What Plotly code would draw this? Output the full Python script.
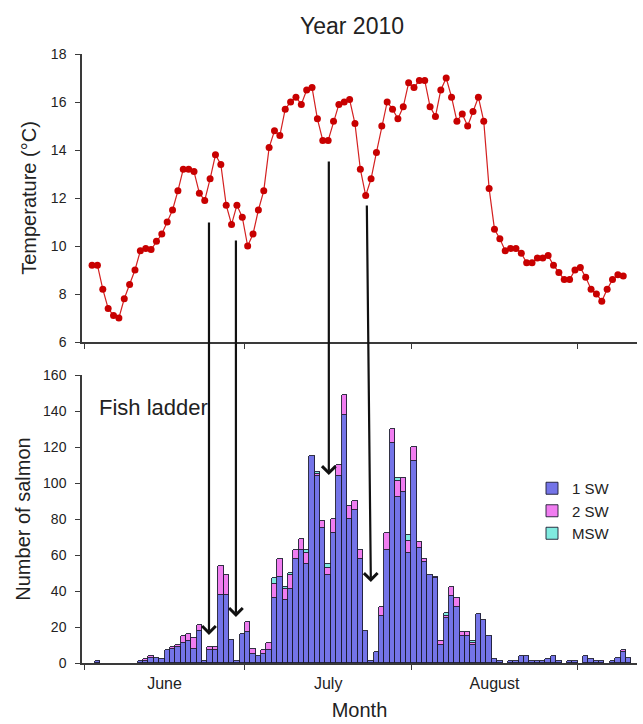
import pandas as pd
import plotly.graph_objects as go
from plotly.subplots import make_subplots

# ---- data -------------------------------------------------------------
# Daily mean water temperature (deg C), 2 June - 9 September 2010
temp_first_day = "2010-06-02"
temperature = [
    9.2, 9.2, 8.2, 7.4, 7.1, 7.0, 7.8, 8.4, 9.0, 9.8,
    9.9, 9.85, 10.2, 10.5, 11.0, 11.5, 12.3, 13.2, 13.2, 13.1,
    12.2, 11.9, 12.8, 13.8, 13.4, 11.7, 10.9, 11.7, 11.2, 10.0,
    10.5, 11.5, 12.3, 14.1, 14.8, 14.6, 15.7, 16.0, 16.2, 15.9,
    16.5, 16.6, 15.3, 14.4, 14.4, 15.2, 15.9, 16.0, 16.1, 15.1,
    13.2, 12.1, 12.8, 13.9, 15.0, 16.0, 15.7, 15.3, 15.8, 16.8,
    16.6, 16.9, 16.9, 15.8, 15.4, 16.5, 17.0, 16.2, 15.2, 15.5,
    15.0, 15.6, 16.2, 15.2, 12.4, 10.7, 10.3, 9.8, 9.9, 9.9,
    9.7, 9.3, 9.3, 9.5, 9.5, 9.6, 9.2, 8.9, 8.6, 8.6,
    9.0, 9.1, 8.7, 8.2, 8.0, 7.7, 8.2, 8.6, 8.8, 8.75,
]

# Daily salmon counts in the fish ladder, 1 June - 10 September 2010
count_first_day = "2010-06-01"
one_sw = [
    0, 0, 1, 0, 0, 0, 0, 0, 0, 0,
    1, 1, 3, 3, 2, 7, 8, 9, 11, 12,
    8, 18, 1, 7, 7, 38, 38, 13, 1, 16,
    17, 5, 4, 5, 7, 36, 48, 35, 41, 58,
    63, 55, 115, 104, 75, 49, 72, 104, 138, 80,
    85, 58, 18, 1, 6, 26, 63, 122, 92, 95,
    61, 112, 64, 56, 49, 47, 10, 25, 37, 31,
    15, 15, 10, 27, 24, 15, 2, 1, 0, 1,
    1, 4, 4, 1, 1, 1, 2, 4, 1, 0,
    1, 1, 0, 4, 2, 1, 1, 0, 1, 3,
    6, 3,
]
two_sw = [
    0, 0, 0, 0, 0, 0, 0, 0, 0, 0,
    0, 1, 1, 0, 0, 0, 1, 1, 4, 4,
    6, 3, 0, 2, 2, 16, 11, 0, 0, 0,
    6, 3, 0, 2, 4, 8, 10, 6, 8, 5,
    6, 6, 0, 1, 4, 4, 8, 6, 11, 7,
    5, 5, 0, 0, 0, 5, 9, 8, 9, 8,
    7, 8, 3, 2, 0, 1, 2, 1, 5, 5,
    2, 2, 1, 0, 0, 0, 0, 0, 0, 0,
    0, 0, 0, 0, 0, 0, 0, 0, 0, 0,
    0, 0, 0, 0, 0, 0, 0, 0, 0, 0,
    1, 0,
]
multi_sw = [
    0, 0, 0, 0, 0, 0, 0, 0, 0, 0,
    0, 0, 0, 0, 0, 0, 0, 0, 0, 0,
    0, 0, 0, 0, 0, 0, 0, 0, 0, 0,
    0, 0, 0, 0, 0, 3, 0, 1, 1, 0,
    0, 2, 0, 1, 0, 2, 0, 0, 0, 0,
    0, 0, 0, 0, 0, 0, 0, 0, 2, 0,
    3, 0, 0, 0, 0, 0, 0, 2, 0, 0,
    0, 0, 1, 0, 0, 0, 0, 0, 0, 0,
    0, 0, 0, 0, 0, 0, 0, 0, 0, 0,
    0, 0, 0, 0, 0, 0, 0, 0, 0, 0,
    0, 0,
]
series_names = ["1 SW", "2 SW", "MSW"]
series_colors = ["#7474E8", "#F07DF0", "#80EBE0"]

# Temperature drops followed by a dip in the run:
# (tail time, tail temperature, head time, head count)
events = [
    ("2010-06-24 07:00", 11.04, "2010-06-24 07:00", 15.6),
    ("2010-06-29 07:30", 10.29, "2010-06-29 07:30", 25.6),
    ("2010-07-16 15:00", 13.58, "2010-07-16 15:00", 104.4),
    ("2010-07-23 17:00", 11.75, "2010-07-24 11:00", 45.0),
]

# ---- geometry ---------------------------------------------------------
W, H = 643, 724
M_L, M_R, M_T, M_B = 82, 6, 54, 61
plot_h = H - M_T - M_B
panel_h = 288
top_dom = [1 - panel_h / plot_h, 1.0]
bot_dom = [0.0, panel_h / plot_h]
temp_range = [6, 18]
count_range = [0, 160]
x_range = ["2010-05-31 15:00", "2010-09-12 01:30"]

font_family = "Liberation Sans, Arial, sans-serif"
ink = "#222222"
axis_col = "#3a3a3a"

half_day = pd.Timedelta(hours=12)
temp_days = pd.date_range(temp_first_day, periods=len(temperature), freq="D") + half_day
count_days = pd.date_range(count_first_day, periods=len(one_sw), freq="D") + half_day


def nz(vals):
    return [v if v else None for v in vals]


fig = make_subplots(rows=2, cols=1, shared_xaxes=True)

fig.add_trace(
    go.Scatter(
        x=temp_days, y=temperature, mode="lines+markers",
        line=dict(color="#D42020", width=1.2),
        marker=dict(color="#C80000", size=7),
        showlegend=False,
    ),
    row=1, col=1,
)

for name, vals, col in zip(series_names, [one_sw, two_sw, multi_sw], series_colors):
    fig.add_trace(
        go.Bar(
            x=count_days, y=nz(vals), name=name,
            width=86400000,
            marker=dict(color=col, line=dict(color="#1c1c30", width=0.9)),
        ),
        row=2, col=1,
    )


# pixel position helpers for the arrow tails
def py_temp(t):
    frac = top_dom[0] + (t - temp_range[0]) / (temp_range[1] - temp_range[0]) * (top_dom[1] - top_dom[0])
    return M_T + (1 - frac) * plot_h


def py_count(c):
    frac = bot_dom[0] + (c - count_range[0]) / (count_range[1] - count_range[0]) * (bot_dom[1] - bot_dom[0])
    return M_T + (1 - frac) * plot_h


for tail_t, tail_temp, head_t, head_n in events:
    fig.add_annotation(
        xref="x2", yref="y2", x=head_t, y=head_n,
        axref="x2", ax=tail_t,
        ayref="pixel", ay=py_temp(tail_temp) - py_count(head_n),
        text="", showarrow=True,
        arrowhead=4, arrowsize=1.2, arrowwidth=2.2, arrowcolor="#111111",
        standoff=0,
    )

fig.add_annotation(
    xref="paper", yref="paper",
    x=(97 - M_L) / (W - M_L - M_R), y=1 - (407 - M_T) / plot_h,
    xanchor="left", yanchor="middle",
    text="Fish ladder", showarrow=False,
    font=dict(size=22, color=ink, family=font_family),
)

common_x = dict(
    type="date", range=x_range,
    tick0="2010-06-01", dtick="M1", ticklabelmode="period", tickformat="%B",
    ticks="outside", ticklen=5, tickwidth=1.2, tickcolor=axis_col,
    showline=True, linecolor=axis_col, linewidth=1.5,
    showgrid=False, zeroline=False, automargin=False,
    tickfont=dict(size=16, color=ink, family=font_family),
)
common_y = dict(
    ticks="outside", ticklen=5, tickwidth=1.2, tickcolor=axis_col,
    showline=True, linecolor=axis_col, linewidth=1.5,
    showgrid=False, zeroline=False, automargin=False,
    tickfont=dict(size=14, color=ink, family=font_family),
    ticklabelstandoff=6,
)

fig.update_layout(
    width=W, height=H,
    margin=dict(l=M_L, r=M_R, t=M_T, b=M_B),
    paper_bgcolor="white", plot_bgcolor="white",
    barmode="stack", bargap=0,
    font=dict(family=font_family, color=ink),
    title=dict(
        text="Year 2010", x=352 / W, xanchor="center",
        y=1 - 26 / H, yanchor="middle",
        font=dict(size=23, color=ink, family=font_family),
    ),
    legend=dict(
        x=(532 - M_L) / (W - M_L - M_R), y=1 - (472 - M_T) / plot_h,
        xanchor="left", yanchor="top", traceorder="normal",
        bgcolor="rgba(0,0,0,0)", font=dict(size=15, color=ink, family=font_family),
    ),
    xaxis=dict(common_x, domain=[0, 1], showticklabels=False),
    xaxis2=dict(common_x, domain=[0, 1],
                title=dict(text="Month", standoff=12,
                           font=dict(size=20, color=ink, family=font_family))),
    yaxis=dict(common_y, domain=top_dom, range=temp_range, dtick=2,
               title=dict(text="Temperature (°C)", standoff=9,
                          font=dict(size=20, color=ink, family=font_family))),
    yaxis2=dict(common_y, domain=bot_dom, range=count_range, dtick=20,
                title=dict(text="Number of salmon", standoff=7,
                           font=dict(size=20, color=ink, family=font_family))),
)

fig.write_html("out.html")
